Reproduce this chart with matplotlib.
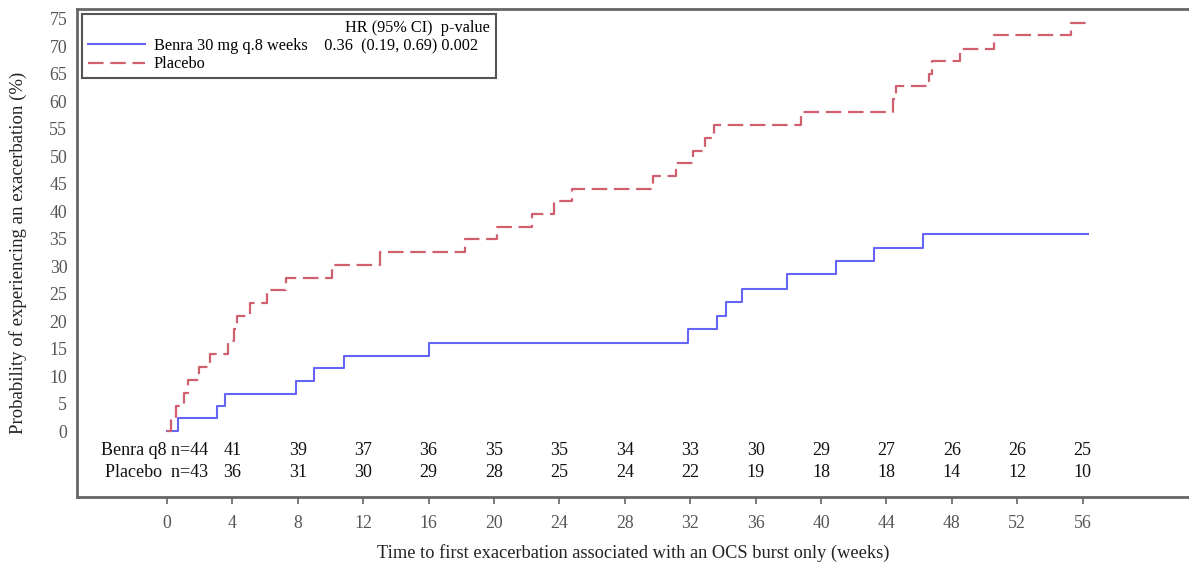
# Kaplan-Meier style plot: time to first exacerbation with an OCS burst

import numpy as np
import matplotlib.pyplot as plt
from matplotlib.lines import Line2D

plt.rcParams['font.family'] = ['Liberation Serif', 'DejaVu Serif']

# step curves: event week and cumulative probability (%)
benra_weeks = [0, 0.65, 3.08, 3.57, 7.87, 8.99, 10.84, 16.04, 31.87, 33.63,
               34.18, 35.17, 37.92, 40.94, 43.22, 46.24]
benra_prob = [0, 2.3, 4.5, 6.8, 9.1, 11.4, 13.7, 16.1, 18.5, 21.0,
              23.4, 25.9, 28.5, 30.9, 33.4, 35.9]
benra_end = 56.3

placebo_weeks = [0, 0.25, 0.55, 1.05, 1.3, 1.95, 2.65, 3.75, 4.1, 4.3, 5.07,
                 6.1, 7.3, 10.07, 13.0, 18.2, 20.2, 22.33, 23.68, 24.8, 29.73,
                 31.1, 32.14, 32.9, 33.46, 38.8, 44.37, 44.6, 46.6, 46.8, 48.5,
                 50.56, 55.3]
placebo_prob = [0, 2.3, 4.65, 7.0, 9.3, 11.6, 14.0, 16.3, 18.6, 20.9, 23.3,
                25.6, 27.9, 30.2, 32.5, 34.9, 37.2, 39.5, 41.8, 44.1, 46.4,
                48.7, 51.0, 53.4, 55.7, 58.0, 60.4, 62.7, 65.0, 67.3, 69.6,
                72.0, 74.3]
placebo_end = 56.3

# numbers at risk
risk_weeks = np.arange(0, 57, 4)
benra_risk = [44, 41, 39, 37, 36, 35, 35, 34, 33, 30, 29, 27, 26, 26, 25]
placebo_risk = [43, 36, 31, 30, 29, 28, 25, 24, 22, 19, 18, 18, 14, 12, 10]

blue = '#6464f5'
red = '#d0606e'
gray = '#666666'

fig = plt.figure(figsize=(11.89, 5.68), dpi=100)
ax = fig.add_axes([77 / 1189, 71 / 568, 1112 / 1189, 488 / 568])

ax.step(benra_weeks + [benra_end], benra_prob + [benra_prob[-1]],
        where='post', color=blue, lw=1.5)
ax.step(placebo_weeks + [placebo_end], placebo_prob + [placebo_prob[-1]],
        where='post', color=red, lw=1.6, ls=(0, (7, 3)))

ax.set_xlim(-5.5, 62.5)
ax.set_ylim(-12.0, 76.8)
ax.set_xticks(risk_weeks)
ax.set_yticks(np.arange(0, 76, 5))
ax.tick_params(axis='y', length=0, pad=7, labelsize=12.8, labelcolor='#555555')
ax.tick_params(axis='x', length=5, width=1.2, color=gray, pad=8,
               labelsize=12.8, labelcolor='#555555')

for side in ['top', 'left', 'bottom']:
    ax.spines[side].set_color(gray)
    ax.spines[side].set_linewidth(2)
ax.spines['right'].set_visible(False)

ax.set_xlabel('Time to first exacerbation associated with an OCS burst only (weeks)',
              fontsize=13.2, color='#222222', labelpad=9)
ax.set_ylabel('Probability of experiencing an exacerbation (%)',
              fontsize=13.5, color='#222222', labelpad=16)

# at-risk table inside the frame
risk_kw = dict(va='center', fontsize=13, color='#111111')
ax.text(2.5, -3.5, 'Benra q8 n=%d' % benra_risk[0], ha='right', **risk_kw)
ax.text(2.5, -7.6, 'Placebo  n=%d' % placebo_risk[0], ha='right', **risk_kw)
for w, b, p in zip(risk_weeks[1:], benra_risk[1:], placebo_risk[1:]):
    ax.text(w, -3.5, str(b), ha='center', **risk_kw)
    ax.text(w, -7.6, str(p), ha='center', **risk_kw)

handles = [Line2D([], [], color=blue, lw=1.5),
           Line2D([], [], color=red, lw=1.6, ls=(0, (7, 3)))]
labels = ['Benra 30 mg q.8 weeks    0.36  (0.19, 0.69) 0.002   ', 'Placebo']
leg = ax.legend(handles, labels, loc='upper left', bbox_to_anchor=(0.0045, 0.99),
                borderaxespad=0, fontsize=11.7, title='HR (95% CI)  p-value',
                title_fontsize=11.7, alignment='right', fancybox=False,
                handlelength=3.5, handletextpad=0.55, labelspacing=0.15,
                borderpad=0.35, framealpha=1)
leg.get_frame().set_edgecolor('#555555')
leg.get_frame().set_linewidth(1.5)

fig.savefig('out.png', dpi=100)
